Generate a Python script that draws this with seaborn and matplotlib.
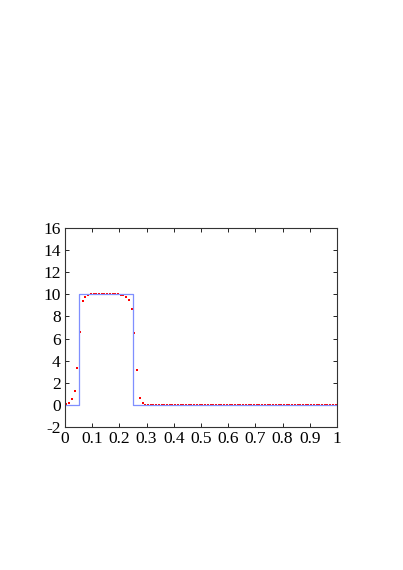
import numpy as np
import pandas as pd
import matplotlib
matplotlib.use('Agg')
import matplotlib.pyplot as plt
import seaborn as sns

# exact solution (step)
exact_x = [0.0, 0.05, 0.05, 0.25, 0.25, 1.0]
exact_y = [0.0, 0.0, 10.0, 10.0, 0.0, 0.0]

# numerical solution at cell centres
num_x = [0.005 + 0.01 * i for i in range(100)]
num_head = [0.05, 0.15, 0.5, 1.3, 3.3, 6.6, 9.4, 9.8, 9.95,
            10.0, 10.0, 10.0, 10.0, 10.0, 10.0, 10.0, 10.0, 10.0, 10.0, 10.0,
            9.95, 9.9, 9.8, 9.5, 8.7, 6.5, 3.2, 0.6, 0.15, 0.02]
num_y = num_head + [0.0] * (100 - len(num_head))

df_exact = pd.DataFrame({'x': exact_x, 'y': exact_y})
df_num = pd.DataFrame({'x': num_x, 'y': num_y})

sns.set_style('ticks')
plt.rcParams['font.family'] = ['Liberation Serif', 'DejaVu Serif']
plt.rcParams['axes.unicode_minus'] = False

fig = plt.figure(figsize=(4.03, 5.70), dpi=100)
ax = fig.add_axes([65 / 403, 1 - 427 / 570, 272 / 403, 199 / 570])

sns.lineplot(data=df_exact, x='x', y='y', ax=ax, color='#7f8fff', lw=0.9,
             sort=False, estimator=None)
sns.scatterplot(data=df_num, x='x', y='y', ax=ax, color='red', s=3.5,
                marker='s', linewidth=0)

ax.set_xlim(0, 1)
ax.set_ylim(-2, 16)
ax.set_xticks(np.arange(0, 1.01, 0.1))
ax.set_xticklabels(['0', '0.1', '0.2', '0.3', '0.4', '0.5', '0.6', '0.7', '0.8', '0.9', '1'])
ax.set_yticks(np.arange(-2, 17, 2))
ax.set_yticklabels([str(v) for v in range(-2, 17, 2)])
ax.set_xlabel('')
ax.set_ylabel('')
ax.tick_params(direction='in', top=True, right=True, length=3, width=0.6,
               labelsize=12.5, colors='black', pad=3)
for s in ax.spines.values():
    s.set_visible(True)
    s.set_linewidth(0.8)
    s.set_color('#333333')

fig.savefig('out.png', dpi=100)
